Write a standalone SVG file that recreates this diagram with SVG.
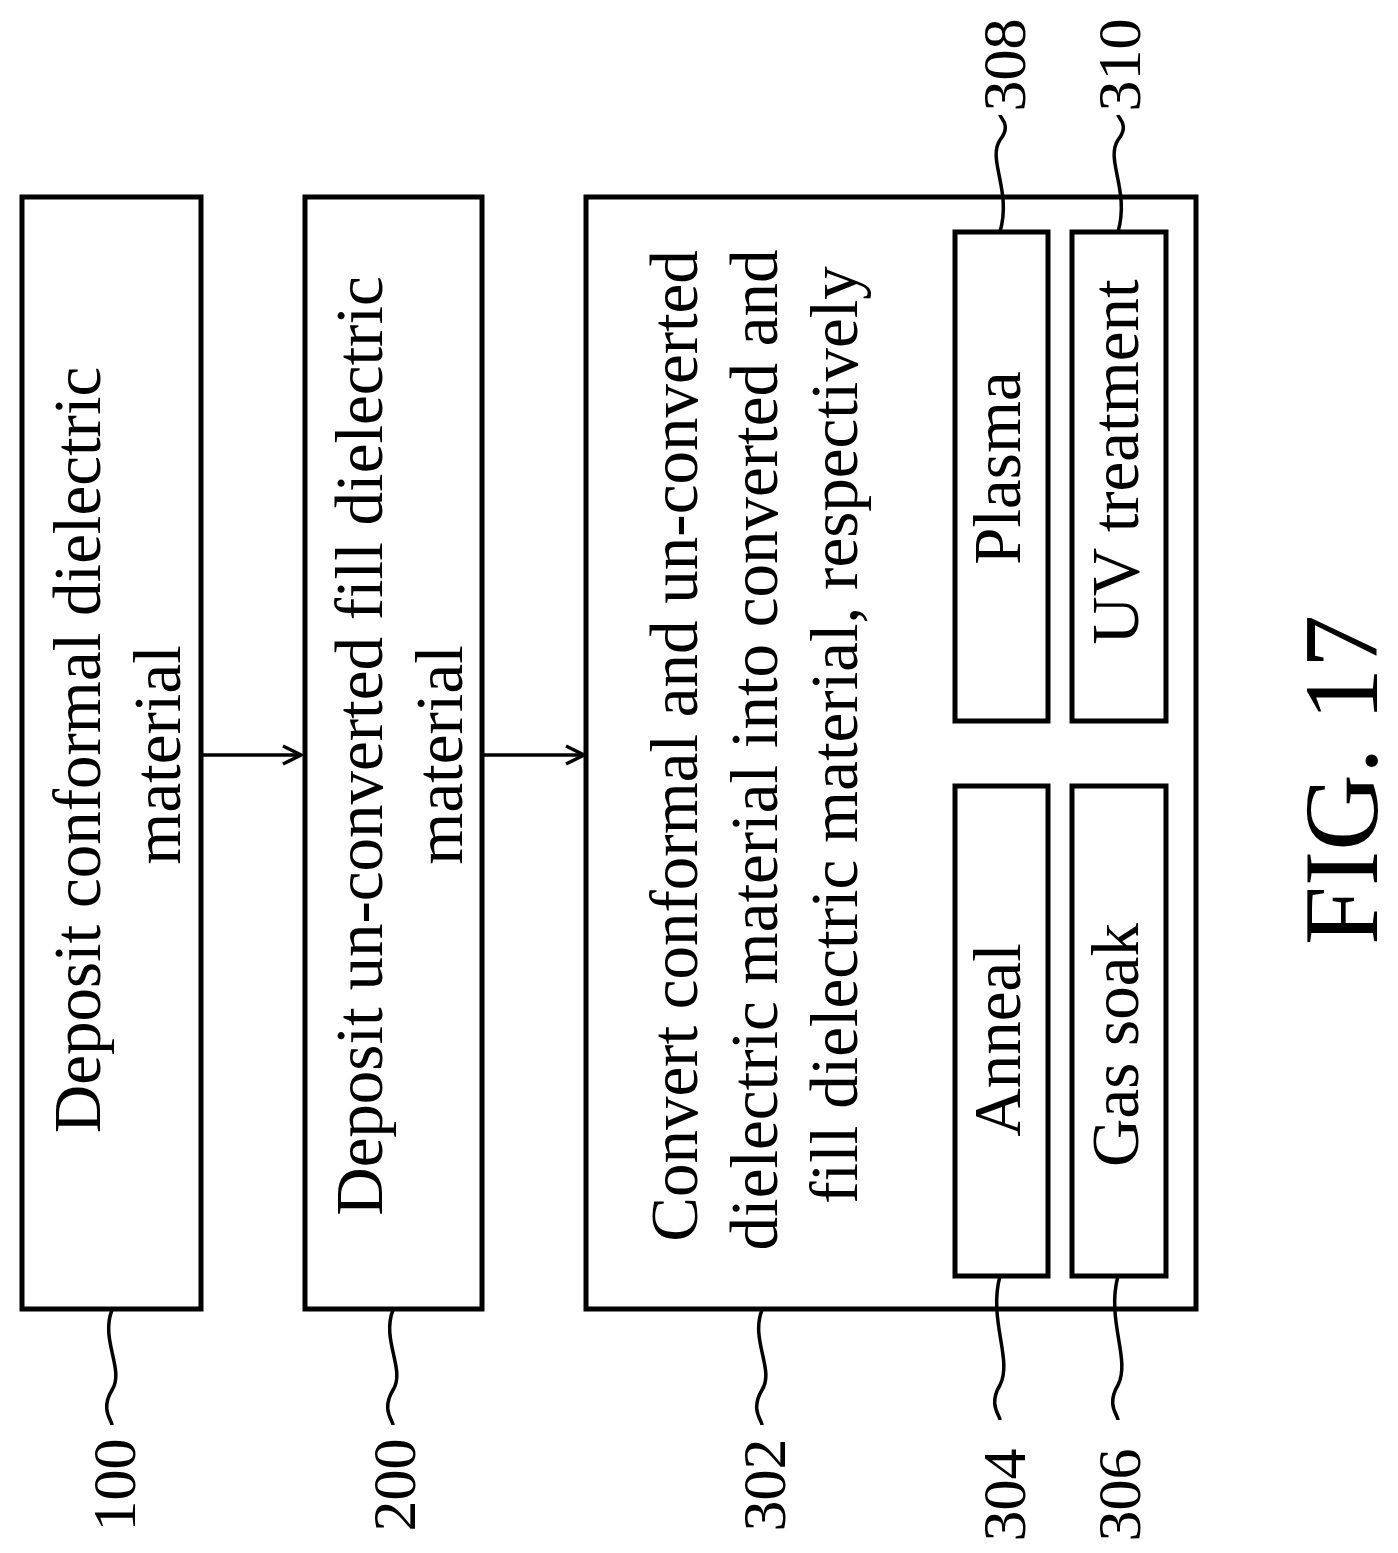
<svg xmlns="http://www.w3.org/2000/svg" width="1398" height="1553" viewBox="0 0 1398 1553">
<style>
.b{fill:#fff;stroke:#000;stroke-width:5}
.t{font-family:"Liberation Serif",serif;font-size:67px;text-anchor:middle;fill:#000}
.s{font-size:62px}
.l{fill:none;stroke:#000;stroke-width:3.5}
</style>
<defs><marker id="a" markerWidth="22" markerHeight="22" refX="20" refY="11" orient="auto" markerUnits="userSpaceOnUse"><path d="M2,2 L20,11 L2,20" fill="none" stroke="#000" stroke-width="3.5"/></marker></defs>
<rect width="1398" height="1553" fill="#fff"/>
<g id="n100"><rect class="b" x="22" y="197" width="179" height="1112"/>
<text class="t" transform="translate(100,750) rotate(-90)">Deposit conformal dielectric</text>
<text class="t" transform="translate(180,755) rotate(-90)">material</text></g>
<g id="n200"><rect class="b" x="305" y="197" width="177" height="1112"/>
<text class="t" transform="translate(382,746) rotate(-90)">Deposit un-converted fill dielectric</text>
<text class="t" transform="translate(462,755) rotate(-90)">material</text></g>
<g id="n302"><rect class="b" x="586" y="197" width="610" height="1112"/>
<text class="t" transform="translate(697,746) rotate(-90)">Convert conformal and un-converted</text>
<text class="t" transform="translate(777,750) rotate(-90)">dielectric material into converted and</text>
<text class="t" transform="translate(857,735) rotate(-90)">fill dielectric material, respectively</text></g>
<g id="n308"><rect class="b" x="955" y="232" width="93" height="489"/><text class="t" transform="translate(1020,468) rotate(-90)">Plasma</text></g>
<g id="n310"><rect class="b" x="1072" y="232" width="94" height="489"/><text class="t" transform="translate(1138,462) rotate(-90)">UV treatment</text></g>
<g id="n304"><rect class="b" x="955" y="786" width="93" height="490"/><text class="t" transform="translate(1020,1040) rotate(-90)">Anneal</text></g>
<g id="n306"><rect class="b" x="1072" y="786" width="94" height="490"/><text class="t" transform="translate(1138,1045) rotate(-90)">Gas soak</text></g>
<g id="connectors">
<line class="l" x1="201" y1="755" x2="301" y2="755" marker-end="url(#a)"/>
<line class="l" x1="482" y1="755" x2="584" y2="755" marker-end="url(#a)"/>
<path class="l" d="M112,1310 C100,1340 125,1370 112,1390 C100,1410 112,1420 112,1425"/>
<path class="l" d="M393,1310 C381,1340 406,1370 393,1390 C381,1410 393,1420 393,1425"/>
<path class="l" d="M762,1310 C750,1340 775,1370 762,1390 C750,1410 762,1420 762,1425"/>
<path class="l" d="M1000,1276 C988,1320 1013,1360 1000,1385 C988,1405 1000,1415 1000,1420"/>
<path class="l" d="M1118,1276 C1106,1320 1131,1360 1118,1385 C1106,1405 1118,1415 1118,1420"/>
<path class="l" d="M1000,232 C1012,190 987,160 1000,140 C1012,125 1000,118 1000,115"/>
<path class="l" d="M1118,232 C1130,190 1105,160 1118,140 C1130,125 1118,118 1118,115"/>
</g>
<g id="labels">
<text class="t s" transform="translate(135,1485) rotate(-90)">100</text>
<text class="t s" transform="translate(415,1485) rotate(-90)">200</text>
<text class="t s" transform="translate(785,1485) rotate(-90)">302</text>
<text class="t s" transform="translate(1025,1495) rotate(-90)">304</text>
<text class="t s" transform="translate(1140,1495) rotate(-90)">306</text>
<text class="t s" transform="translate(1025,65) rotate(-90)">308</text>
<text class="t s" transform="translate(1140,65) rotate(-90)">310</text>
<text class="t" style="font-size:106px" transform="translate(1377,780) rotate(-90)">FIG. 17</text>
</g>
</svg>
